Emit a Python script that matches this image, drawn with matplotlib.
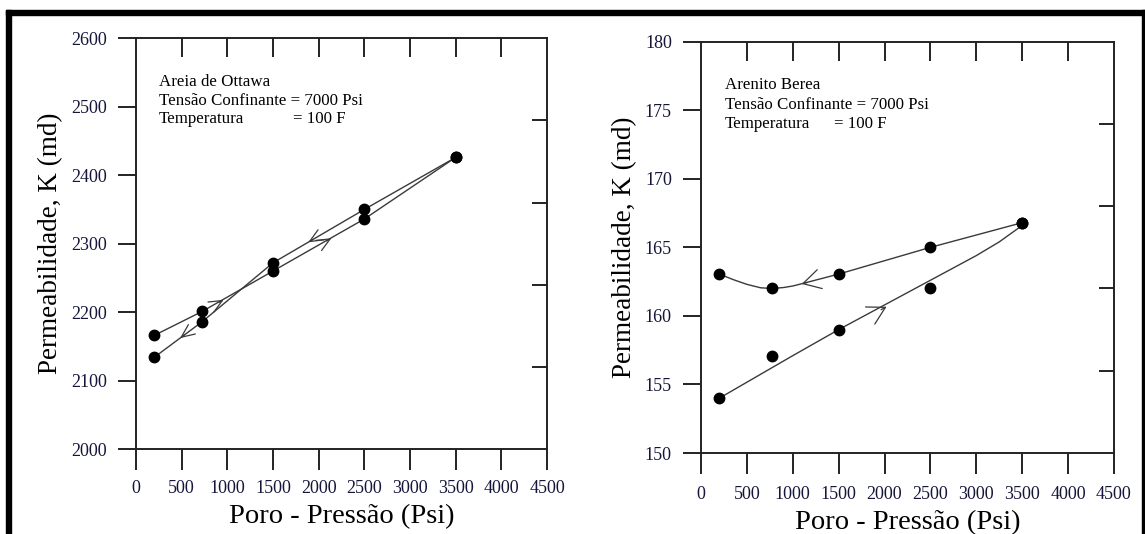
import matplotlib
matplotlib.use("Agg")
import matplotlib.pyplot as plt
from matplotlib.patches import Rectangle

plt.rcParams['font.family'] = ['Liberation Serif', 'DejaVu Serif']

# ---------------- data ----------------
# Left panel: Areia de Ottawa
ott_load_x = [200, 725, 1500, 2500, 3500]
ott_load_y = [2166, 2201, 2260, 2336, 2426]
ott_unload_x = [3500, 2500, 1500, 725, 200]
ott_unload_y = [2426, 2350, 2272, 2186, 2134]
# arrow tips (x, y, direction +1 right / -1 left)
ott_arrow_x = [482, 960, 1886, 2140]
ott_arrow_y = [2162, 2218, 2302, 2308]
ott_arrow_dir = [-1, 1, -1, 1]
ott_seg = [(725, 2186, 200, 2134), (725, 2201, 1500, 2260),
           (2500, 2350, 1500, 2272), (1500, 2260, 2500, 2336)]

# Right panel: Arenito Berea
ber_load_x = [200, 775, 1500, 2500, 3500]
ber_load_y = [154.0, 157.1, 159.0, 162.0, 166.8]
ber_unload_x = [3500, 2500, 1500, 775, 200]
ber_unload_y = [166.8, 165.0, 163.05, 162.0, 163.05]
# fitted curves drawn in the original figure
ber_load_fit_x = [200, 1000, 1500, 2000, 2500, 3000, 3250, 3500]
ber_load_fit_y = [154.0, 157.1, 159.0, 160.8, 162.6, 164.4, 165.4, 166.6]
ber_unload_fit_x = [3500, 2500, 1500, 1300, 1100, 1000, 900, 775, 650, 500, 350, 200]
ber_unload_fit_y = [166.8, 165.0, 163.05, 162.7, 162.35, 162.18, 162.07, 162.0, 162.05, 162.3, 162.65, 163.05]
ber_arrow_x = [1097, 2022]
ber_arrow_y = [162.33, 160.67]
ber_arrow_dir = [-1, 1]

xticks = [0, 500, 1000, 1500, 2000, 2500, 3000, 3500, 4000, 4500]
ott_yticks = [2000, 2100, 2200, 2300, 2400, 2500, 2600]
ber_yticks = [150, 155, 160, 165, 170, 175, 180]

W, H = 1145, 534
fig = plt.figure(figsize=(W / 100, H / 100), dpi=100)
fig.patch.set_facecolor('white')

def frac(x0, y0, x1, y1):
    return [x0 / W, 1 - y1 / H, (x1 - x0) / W, (y1 - y0) / H]

axL = fig.add_axes(frac(136, 38.3, 547, 449))
axR = fig.add_axes(frac(701, 41.7, 1114, 453))

LC = '#3a3a3a'
TC = '#15153a'

def style(ax, ylim, yticks, label_x, xlab_y, xpad):
    ax.set_xlim(0, 4500)
    ax.set_ylim(*ylim)
    ax.set_xticks(xticks)
    ax.set_yticks(yticks)
    for s in ax.spines.values():
        s.set_linewidth(1.4)
        s.set_color('#222222')
    ax.tick_params(axis='x', direction='out', length=15, width=1.4, pad=xpad,
                   labelsize=13, colors='#222222', labelcolor=TC)
    ax.tick_params(axis='y', direction='out', length=13, width=1.4, pad=8,
                   labelsize=13, colors='#222222', labelcolor=TC)
    # top ticks (inward)
    sec = ax.secondary_xaxis('top')
    sec.set_xticks(xticks[1:-1])
    sec.tick_params(direction='in', length=14, width=1.4,
                    labeltop=False, colors='#222222')
    sec.spines['top'].set_visible(False)
    # right ticks (inward, 5 divisions)
    y0, y1 = ylim
    rt = [y0 + (y1 - y0) * k / 5 for k in range(1, 5)]
    secy = ax.secondary_yaxis('right')
    secy.set_yticks(rt)
    secy.tick_params(direction='in', length=11, width=1.4, labelright=False,
                     colors='#222222')
    secy.spines['right'].set_visible(False)
    ax.set_xlabel('Poro - Pressão (Psi)', fontsize=20.5)
    ax.set_ylabel('Permeabilidade, K (md)', fontsize=19.5)
    ax.xaxis.set_label_coords(0.5, xlab_y)
    ax.yaxis.set_label_coords(label_x, 0.5)

style(axL, (2000, 2600), ott_yticks, -0.178, -0.134, 7.5)
style(axR, (150, 180), ber_yticks, -0.155, -0.138, 8.5)

def arrow(ax, x, y, d, dxr, dyr, hl, hw):
    # dxr, dyr: direction vector of the underlying line (data units)
    ax.annotate('', xy=(x, y), xytext=(x - d * dxr, y - d * dyr),
                arrowprops=dict(arrowstyle='->,head_length=%g,head_width=%g' % (hl, hw),
                                color=LC, lw=0.9, shrinkA=0, shrinkB=0),
                annotation_clip=False)

# Left panel
axL.plot(ott_load_x, ott_load_y, color=LC, lw=1.0, zorder=2)
axL.plot(ott_unload_x, ott_unload_y, color=LC, lw=1.0, zorder=2)
axL.plot(ott_load_x, ott_load_y, 'o', color='black', ms=7.5, zorder=3)
axL.plot(ott_unload_x, ott_unload_y, 'o', color='black', ms=7.5, zorder=3)
for x, y, d, seg in zip(ott_arrow_x, ott_arrow_y, ott_arrow_dir, ott_seg):
    xa, ya, xb, yb = seg
    dx, dy = abs(xb - xa), (yb - ya) / (xb - xa) * abs(xb - xa)
    n = (dx ** 2 + (dy * 7.5) ** 2) ** 0.5
    arrow(axL, x, y, d, dx / n * 60, dy / n * 60, 0.95, 0.42)

# Right panel
axR.plot(ber_load_fit_x, ber_load_fit_y, color=LC, lw=1.0, zorder=2)
axR.plot(ber_unload_fit_x, ber_unload_fit_y, color=LC, lw=1.0, zorder=2)
axR.plot(ber_load_x, ber_load_y, 'o', color='black', ms=7.5, zorder=3)
axR.plot(ber_unload_x, ber_unload_y, 'o', color='black', ms=7.5, zorder=3)
arrow(axR, ber_arrow_x[0], ber_arrow_y[0], -1, 60, 0.107, 1.25, 0.7)
arrow(axR, ber_arrow_x[1], ber_arrow_y[1], 1, 60, 0.216, 1.25, 0.7)

# annotations
tk = dict(fontsize=12.2, va='center', color='black')
def notes(ax, title, x0, xeq, ys):
    ax.text(x0, ys[0], title, transform=ax.transAxes, **tk)
    ax.text(x0, ys[1], 'Tensão Confinante = 7000 Psi', transform=ax.transAxes, **tk)
    ax.text(x0, ys[2], 'Temperatura', transform=ax.transAxes, **tk)
    ax.text(xeq, ys[2], '= 100 F', transform=ax.transAxes, **tk)

notes(axL, 'Areia de Ottawa', 0.056, 0.382, [0.893, 0.847, 0.803])
notes(axR, 'Arenito Berea', 0.058, 0.322, [0.895, 0.847, 0.800])

# outer frame (top, left, right)
fig.patches.append(Rectangle((6 / W, 1 - 15 / H), (1145 - 6) / W, 5 / H,
                             transform=fig.transFigure, color='black', zorder=10))
fig.patches.append(Rectangle((6 / W, 0), 5 / W, 1 - 10 / H,
                             transform=fig.transFigure, color='black', zorder=10))
fig.patches.append(Rectangle((1142 / W, 0), 3 / W, 1 - 10 / H,
                             transform=fig.transFigure, color='black', zorder=10))

fig.savefig('out.png', dpi=100)
